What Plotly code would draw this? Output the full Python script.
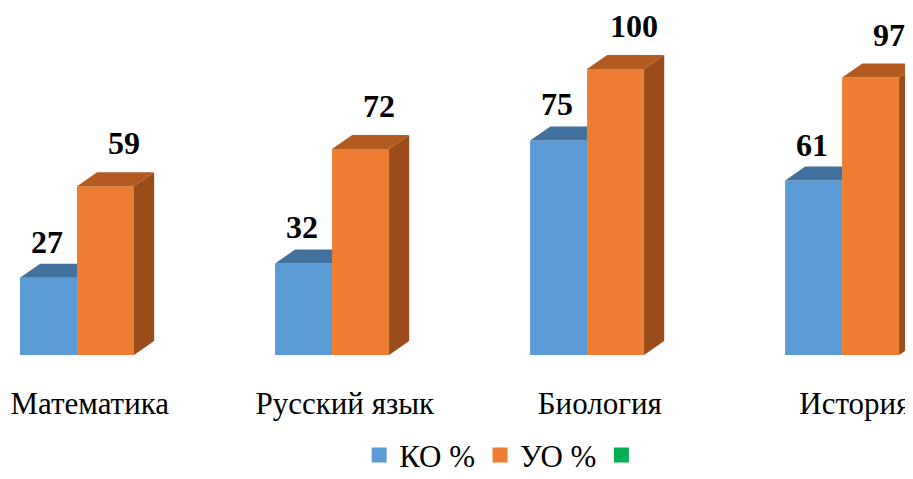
import plotly.graph_objects as go

subjects = ['Математика', 'Русский язык', 'Биология', 'История']
ko = [27, 32, 75, 61]
uo = [59, 72, 100, 97]
series_names = ['КО %', 'УО %', ' ']

BLUE = '#5B9BD5'
BLUE_TOP = '#41719C'
ORANGE = '#ED7D31'
ORANGE_TOP = '#B35A21'
ORANGE_SIDE = '#9A4C1B'
GREEN = '#00B050'

w = 0.2235   # bar width in category units
dx = 0.079   # 3d depth, x
dy = 4.9     # 3d depth, y
pos = list(range(len(subjects)))

fig = go.Figure()

# front faces
fig.add_trace(go.Bar(x=pos, y=ko, width=w, offset=-w, marker=dict(color=BLUE, line=dict(width=0)),
                     showlegend=False, hoverinfo='skip'))
fig.add_trace(go.Bar(x=pos, y=uo, width=w, offset=0, marker=dict(color=ORANGE, line=dict(width=0)),
                     showlegend=False, hoverinfo='skip'))

# 3d faces
for i in pos:
    x0, x1 = i - w, i
    v = ko[i]
    # visible part of blue top (the rest is hidden behind the orange bar)
    fig.add_trace(go.Scatter(x=[x0, x0 + dx, x1, x1, x0], y=[v, v + dy, v + dy, v, v],
                             fill='toself', fillcolor=BLUE_TOP, mode='lines', line=dict(width=0),
                             showlegend=False, hoverinfo='skip'))
    x0, x1 = i, i + w
    v = uo[i]
    fig.add_trace(go.Scatter(x=[x1, x1 + dx, x1 + dx, x1, x1], y=[0, dy, v + dy, v, 0],
                             fill='toself', fillcolor=ORANGE_SIDE, mode='lines', line=dict(width=0),
                             showlegend=False, hoverinfo='skip'))
    fig.add_trace(go.Scatter(x=[x0, x0 + dx, x1 + dx, x1, x0], y=[v, v + dy, v + dy, v, v],
                             fill='toself', fillcolor=ORANGE_TOP, mode='lines', line=dict(width=0),
                             showlegend=False, hoverinfo='skip'))

# legend entries
for name, col in zip(series_names, [BLUE, ORANGE, GREEN]):
    fig.add_trace(go.Scatter(x=[None], y=[None], mode='markers', name=name,
                             marker=dict(symbol='square', size=15, color=col)))

# value labels
for i in pos:
    fig.add_annotation(x=i - w / 2, y=ko[i], text='<b>%d</b>' % ko[i], showarrow=False,
                       yanchor='bottom', yshift=16, xshift=-2)
    fig.add_annotation(x=i + w / 2, y=uo[i], text='<b>%d</b>' % uo[i], showarrow=False,
                       yanchor='bottom', yshift=23, xshift=18)

fig.update_layout(
    width=905, height=471,
    margin=dict(l=0, r=0, t=0, b=124),
    plot_bgcolor='white', paper_bgcolor='white',
    font=dict(family='Liberation Serif', size=32, color='black'),
    barmode='overlay',
    legend=dict(orientation='h', x=0.551, xanchor='center', yref='container', y=0.05,
                yanchor='middle', font=dict(size=31), itemclick=False),
    xaxis=dict(range=[-0.2706, 3.278], showgrid=False, zeroline=False, showline=False,
               tickvals=[i + 0.05 for i in pos], ticktext=subjects, tickfont=dict(size=31),
               ticks='outside', ticklen=21, tickcolor='white', ticklabeloverflow='allow'),
    yaxis=dict(range=[0, 121.3], visible=False),
)

fig.write_html("out.html")
